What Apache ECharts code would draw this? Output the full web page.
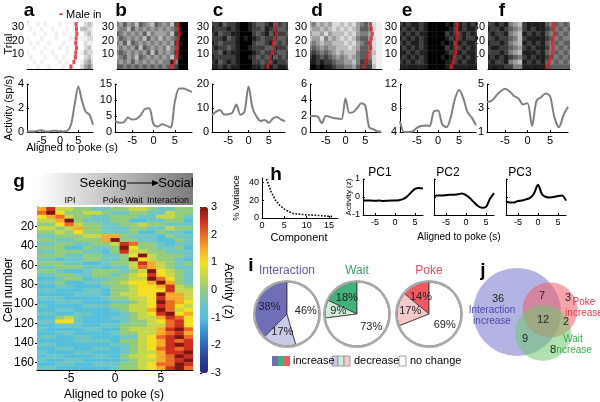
<!DOCTYPE html>
<html>
<head>
<meta charset="utf-8">
<script src="https://cdn.jsdelivr.net/npm/echarts@6/dist/echarts.min.js"></script>
<style>
  html, body { margin: 0; background: #fff; }
  #main { width: 600px; height: 402px; }
</style>
</head>
<body>
<div id="main"></div>
<script>
// ---- data ----
const TIME = [-9, -8, -7, -6, -5, -4, -3, -2, -1, 0, 1, 2, 3, 4, 5, 6, 7, 8, 9];
const X_TICKS = [-5, 0, 5];
const TRIAL_TICKS = [10, 20, 30];

// firing rate (sp/s), one value per TIME entry
const RATE_A = [0.05, 0.05, 0.05, 0.1, 0.15, 0.05, 0.05, 0.1, 0.1, 0.05, 0.05, 0.1, 0.6, 2.3, 3.8, 2.6, 1.7, 1.45, 0.6];
const RATE_B = [3.4, 2.9, 3.0, 4.5, 3.9, 4.1, 5.3, 7.2, 7.4, 2.5, 1.7, 2.4, 2.0, 1.4, 9.5, 13.6, 13.6, 13.1, 12.5];
const RATE_C = [7, 8.5, 9.2, 7.3, 7.4, 8, 11.5, 7.2, 8.4, 19, 10, 6.4, 4.6, 5, 3.9, 5.6, 6.3, 5.2, 4.6];
const RATE_D = [2.0, 2.0, 1.9, 1.1, 2.0, 1.9, 1.75, 1.7, 1.6, 4.2, 2.4, 2.5, 3.0, 3.6, 3.3, 0.6, 0.35, 0.1, 0.02];
const RATE_E = [5.8, 4.0, 4.0, 4.1, 4.7, 5.0, 5.1, 5.0, 7.4, 7.6, 5.3, 4.8, 6.4, 9.5, 11, 9.6, 7.3, 6.4, 5.1];
const RATE_F = [3.5, 3.6, 4.0, 4.4, 4.6, 4.4, 4.0, 3.8, 3.3, 3.4, 1.5, 3.6, 3.9, 4.2, 4.0, 2.2, 1.4, 2.4, 3.1];

const Y_TICKS_A = [0, 2, 4];
const Y_TICKS_B = [0, 5, 10, 15];
const Y_TICKS_C = [0, 10, 20];
const Y_TICKS_D = [0, 2, 4, 6];
const Y_TICKS_E = [4, 8, 12];
const Y_TICKS_F = [1, 3, 5];

// spike density per time bin (0 empty .. 9 solid), top block of trials first
const RASTER_A = [
  '1001010001000100232', '0100100100010103321', '0010010010100100231', '1000100010001001122',
  '0101001000100100211', '0010010001010000231', '1000100100010001322', '0100010010100100231',
  '0010100001010001342', '1001001000101002453'
];
const RASTER_B = [
  '5464536543654537999', '4553645454545456899', '6545454635444537999', '4654545364535456999',
  '5463654545454547899', '4545463654545356999', '5654545463645457999', '4564536545454536899',
  '5454645454545585999', '6656565656565667999'
];
const RASTER_C = [
  '7786778998766786767', '8777878998776877667', '7867788999767868776', '7778678989876777667',
  '8767778999766786767', '7877678998777668776', '7768788999876777667', '8777778998767686767',
  '7867878999776778776', '8878788999887887887'
];
const RASTER_D = [
  '4534342232324564211', '3443432323234665211', '4334243332324554111', '3442534323235664211',
  '4543443332324565211', '5654544333234665211', '6765654343335664311', '7876765454345665211',
  '8878776554435776211', '9989887665546777311'
];
const RASTER_E = [
  '7878878999989787878', '8787878999998787887', '7878788999978778787', '8787878999987878778',
  '7878878999898787887', '8787878999978778787', '8878788999987887887', '8787878999898778787',
  '7878778999988787887', '8888888999988888888'
];
const RASTER_F = [
  '7787854378888656565', '8778765478788765656', '7877854387878656565', '7787765378888765655',
  '8778754387878656566', '7887765478788755656', '7778754388878656565', '8787876578788765656',
  '7877854387878656565', '8888775588888766666'
];

// male entry time for each block of trials, bottom block first
const MALE_A = [3, 3.8, 4.2, 4.3, 4.5, 4.3, 4.4, 4.6, 4.5, 4.4];
const MALE_B = [4.8, 5.5, 6, 6.3, 6.5, 6.3, 6.6, 6.8, 6.5, 6.5];
const MALE_C = [4.2, 4.8, 4.8, 5.3, 5.8, 5.5, 5.8, 6.2, 5.8, 5.8];
const MALE_D = [4.5, 5, 5.3, 5.8, 6.2, 5.8, 6.3, 6.6, 6.3, 6.1];
const MALE_E = [3, 3.4, 3.7, 4, 4.3, 4, 4.3, 4.5, 4.3, 4.4];
const MALE_F = [4, 4.5, 4.8, 5.1, 5.3, 5.1, 5.3, 5.6, 5.5, 5.3];

// population heatmap: each string = 4 cells, one letter per second, a=-3 ... m=+3 (0.5 steps)
const HEAT_TIME = [-8, -7, -6, -5, -4, -3, -2, -1, 0, 1, 2, 3, 4, 5, 6, 7, 8];
const HEAT_LEVELS = 'abcdefghijklm';
const HEAT_ROWS = [
  'jlhhggffgghhgffgg', 'kmigghhgffggffhgg', 'ijkhggffgggffhhgf', 'hhjmgfffggeeffgge',
  'ggikhggffgghggfff', 'hhghjggfffggffhgg', 'gghgiggfffgeegffe', 'ffggghhjjgfffegff',
  'ggffgggjmggffeegf', 'ffggffgghlkggfeff', 'gggeegffgmiggffge', 'ffgggffeglhhggfff',
  'gggffggffgimhgggf', 'ffeffggffgmihggfe', 'gggffeefgghljhgfg', 'ffgggffeffhkjhgff',
  'ggfeefgggfghmihgf', 'ffggffggfghilihgf', 'eefggeffgghhmkigf', 'ffgeeffgghiijmjgf',
  'eeffeeefgghiijlhg', 'ffeeeffegghiiilhh', 'eeeefffeghhiimjjh', 'fffeeeefgghhiljjh',
  'eefffeeeffghimkji', 'feeeefffgghhilkih', 'eeffeeeefghhjmkhi', 'ffeeffeeefghilmij',
  'eeghfeeeffghhjlki', 'ffiifeeeefgghikli', 'eefffeeffggghhkli', 'feeeeffeeghhhjlmk',
  'eeffeeeefgghhjklj', 'ffeeffeeeffhiklmk', 'eeeeffffegghijlkl', 'ffeeeeeeffghijlml',
  'eeffeeffefghiklkl', 'feeeffeeefghhjllm', 'effeeeffeghhijkml', 'feeffeeeefghhjklm',
  'eeffeefffgghikkml', 'ffeeeeeefgghijlmk'
];
const CELL_TICKS = [20, 40, 60, 80, 100, 120, 140, 160];

// PCA
const COMPONENTS = [1, 2, 3, 4, 5, 6, 7, 8, 9, 10, 11, 12, 13, 14, 15, 16];
const VARIANCE = [44, 30, 20, 14, 10, 7, 5, 4.5, 4, 3.5, 3.2, 3, 2.7, 2.4, 2, 1.5];
const PC_TIME = [-8, -7, -6, -5, -4, -3, -2, -1, 0, 1, 2, 3, 4, 5, 6, 7];
const PC1 = [-0.2, -0.2, -0.2, -0.21, -0.2, -0.22, -0.21, -0.2, -0.2, -0.18, -0.12, 0.02, 0.25, 0.45, 0.5, 0.47];
const PC2 = [0.07, 0.08, 0.08, 0.1, 0.12, 0.13, 0.15, 0.2, 0.1, -0.07, -0.3, -0.5, -0.6, -0.55, -0.1, 0.22];
const PC3 = [-0.25, -0.3, -0.3, -0.22, -0.2, -0.13, -0.05, 0.2, 0.68, 0.15, 0.0, -0.03, 0.0, 0.05, 0.08, -0.2];

// percent of cells: increase, decrease, no change
const PIE_INTERACTION = [38, 17, 46];
const PIE_WAIT = [18, 9, 73];
const PIE_POKE = [14, 17, 69];

// venn counts: interaction only, int+poke, poke only, all three, poke+wait, int+wait, wait only
const VENN_COUNTS = [36, 7, 3, 12, 2, 9, 8];

// ---- layout / style ----
const FONT = '"Liberation Sans", Arial, Helvetica, sans-serif';
const TRIAL_MIN = -1, TRIAL_MAX = 34;
const JET = ['#26277c', '#2b3f98', '#3065b8', '#3a93d3', '#56c0dc', '#6fc6c4', '#93cc7c',
  '#c6d84a', '#f5df22', '#f6aa2a', '#ea6a26', '#cf2f20', '#7c1712'];
const GRAYS = ['#ffffff', '#f0f0f0', '#dadada', '#bdbdbd', '#9e9e9e', '#7e7e7e', '#5e5e5e', '#3e3e3e', '#1e1e1e', '#000000'];

const TOP = [
  { id: 'a', rate: RATE_A, ticks: Y_TICKS_A, raster: RASTER_A, male: MALE_A, rx: [27, 66], lx: [27, 66], lab: [29, 11] },
  { id: 'b', rate: RATE_B, ticks: Y_TICKS_B, raster: RASTER_B, male: MALE_B, rx: [117, 71], lx: [115, 77], lab: [121, 11] },
  { id: 'c', rate: RATE_C, ticks: Y_TICKS_C, raster: RASTER_C, male: MALE_C, rx: [212, 76], lx: [212, 73], lab: [218, 11] },
  { id: 'd', rate: RATE_D, ticks: Y_TICKS_D, raster: RASTER_D, male: MALE_D, rx: [310, 72], lx: [310, 71], lab: [317, 11] },
  { id: 'e', rate: RATE_E, ticks: Y_TICKS_E, raster: RASTER_E, male: MALE_E, rx: [400, 77], lx: [400, 76], lab: [407, 11] },
  { id: 'f', rate: RATE_F, ticks: Y_TICKS_F, raster: RASTER_F, male: MALE_F, rx: [488, 82], lx: [487, 81], lab: [502, 11] }
];

const GB = { show: false, containLabel: false, outerBoundsMode: 'none' };

function valueAxis(gridIndex, min, max, ticks, o = {}) {
  return {
    type: 'value', gridIndex, min, max,
    position: o.position, inverse: !!o.inverse, show: o.show !== false,
    axisLine: { show: o.line !== false, onZero: false, lineStyle: { color: '#000', width: 1 } },
    axisTick: { show: !!ticks, inside: o.tickInside !== false, length: 2, customValues: ticks || undefined, lineStyle: { color: '#000' } },
    axisLabel: {
      show: !!ticks && o.labels !== false, customValues: ticks || undefined,
      color: '#000', fontFamily: FONT, fontSize: o.fontSize || 11, margin: o.margin ?? 3
    },
    splitLine: { show: false }
  };
}

function cellRect(params, api) {
  const p0 = api.coord([api.value(0) - 0.5, api.value(1)]);
  const p1 = api.coord([api.value(0) + 0.5, api.value(3)]);
  const cs = params.coordSys;
  const shape = echarts.graphic.clipRectByRect({
    x: Math.min(p0[0], p1[0]), y: Math.min(p0[1], p1[1]),
    width: Math.abs(p1[0] - p0[0]) + 0.4, height: Math.abs(p1[1] - p0[1]) + 0.4
  }, { x: cs.x, y: cs.y, width: cs.width, height: cs.height });
  return shape && { type: 'rect', shape, style: { fill: api.visual('color') } };
}

function text(x, y, str, o = {}) {
  return {
    type: 'text', x, y, rotation: o.rot || 0, silent: true, z: 50,
    style: {
      text: str, fill: o.color || '#000',
      font: `${o.weight || 'normal'} ${o.size || 11}px ${FONT}`,
      align: o.align || 'center', verticalAlign: 'middle'
    }
  };
}

const grid = [], xAxis = [], yAxis = [], series = [], graphic = [];

// rasters (grids 0-5)
TOP.forEach((p, i) => {
  grid.push({ left: p.rx[0], width: p.rx[1], top: 22, height: 47, ...GB });
  xAxis.push(valueAxis(i, -9, 9, null));
  yAxis.push(valueAxis(i, TRIAL_MIN, TRIAL_MAX, TRIAL_TICKS));
  const h = (TRIAL_MAX - TRIAL_MIN) / p.raster.length;
  const cells = [];
  p.raster.forEach((row, r) => {
    const top = TRIAL_MAX - r * h;
    for (let c = 0; c < row.length; c++) cells.push([TIME[c], top - h, +row[c], top]);
  });
  series.push({ type: 'custom', xAxisIndex: i, yAxisIndex: i, renderItem: cellRect, data: cells, silent: true });
});
TOP.forEach((p, i) => {
  const h = (TRIAL_MAX - TRIAL_MIN) / p.male.length;
  series.push({
    type: 'scatter', xAxisIndex: i, yAxisIndex: i, silent: true, z: 5,
    symbol: 'rect', symbolSize: [3, 4.5], itemStyle: { color: '#e41e26' },
    data: p.male.map((t, k) => [t, TRIAL_MIN + (k + 0.5) * h])
  });
});

// firing rate plots (grids 6-11)
TOP.forEach((p, i) => {
  const gi = 6 + i;
  grid.push({ left: p.lx[0], width: p.lx[1], top: 84, height: 48, ...GB });
  xAxis.push(valueAxis(gi, -9, 9, X_TICKS));
  yAxis.push(valueAxis(gi, p.ticks[0], p.ticks[p.ticks.length - 1], p.ticks));
  series.push({
    type: 'line', xAxisIndex: gi, yAxisIndex: gi, silent: true, showSymbol: false, smooth: 0.3,
    lineStyle: { color: '#808080', width: 2 }, data: TIME.map((t, k) => [t, p.rate[k]])
  });
  graphic.push(text(p.lab[0], p.lab[1], p.id, { size: 19, weight: 'bold' }));
});

// heatmap g (grid 12)
grid.push({ left: 37, top: 207, width: 156, height: 163, ...GB });
xAxis.push(valueAxis(12, -8.5, 8.5, X_TICKS, { fontSize: 12, tickInside: false }));
yAxis.push(valueAxis(12, 0, 168, CELL_TICKS, { inverse: true, fontSize: 12, tickInside: false }));
const heatCells = [];
HEAT_ROWS.forEach((row, r) => {
  for (let c = 0; c < row.length; c++) {
    heatCells.push([HEAT_TIME[c], r * 4, HEAT_LEVELS.indexOf(row[c]) * 0.5 - 3, r * 4 + 4]);
  }
});
series.push({ type: 'custom', xAxisIndex: 12, yAxisIndex: 12, renderItem: cellRect, data: heatCells, silent: true });

// colorbar ticks (grid 13)
grid.push({ left: 200, top: 207, width: 8, height: 166, ...GB });
xAxis.push({ type: 'value', gridIndex: 13, min: 0, max: 1, show: false });
yAxis.push({
  type: 'value', gridIndex: 13, min: -3, max: 3, interval: 1, position: 'right',
  axisLine: { show: false }, axisTick: { show: true, length: 2, lineStyle: { color: '#000' } },
  axisLabel: { color: '#000', fontFamily: FONT, fontSize: 11, margin: 3 }, splitLine: { show: false }
});

// variance explained h (grid 14)
grid.push({ left: 262, top: 178, width: 76, height: 40, ...GB });
xAxis.push(valueAxis(14, 0, 17, [0, 5, 10, 15], { fontSize: 9 }));
yAxis.push(valueAxis(14, 0, 45, [0, 20, 40], { fontSize: 9 }));
series.push({
  type: 'line', xAxisIndex: 14, yAxisIndex: 14, silent: true, showSymbol: false,
  lineStyle: { color: '#000', width: 1.6, type: 'dotted' },
  data: COMPONENTS.map((c, k) => [c, VARIANCE[k]])
});

// PC time courses (grids 15-17)
const PCS = [[PC1, 363, 'PC1', 380], [PC2, 434, 'PC2', 448], [PC3, 506, 'PC3', 520]];
PCS.forEach(([vals, left, name, tx], k) => {
  const gi = 15 + k;
  grid.push({ left, top: 179, width: 60, height: 36, ...GB });
  xAxis.push(valueAxis(gi, -8, 7, X_TICKS, { fontSize: 9 }));
  yAxis.push(valueAxis(gi, -1, 1, [-1, 0, 1], { fontSize: 9, labels: k === 0 }));
  series.push({
    type: 'line', xAxisIndex: gi, yAxisIndex: gi, silent: true, showSymbol: false, smooth: 0.3,
    lineStyle: { color: '#000', width: 2 }, data: PC_TIME.map((t, j) => [t, vals[j]])
  });
  graphic.push(text(tx, 173, name, { size: 12 }));
});

// pies i
const PIES = [
  [PIE_INTERACTION, 287, 'Interaction', '#5b5ba8', ['#6f6fb8', '#c9c9e8', '#ffffff']],
  [PIE_WAIT, 357, 'Wait', '#35a06a', ['#40b27a', '#cdeedb', '#ffffff']],
  [PIE_POKE, 429, 'Poke', '#e8505b', ['#ef5a62', '#f7c9cb', '#ffffff']]
];
PIES.forEach(([vals, cx, title, tcol, cols]) => {
  series.push({
    type: 'pie', center: [cx, 314], radius: [0, 32], startAngle: 90, clockwise: false, silent: true,
    label: { show: true, position: 'inside', formatter: '{c}%', color: '#222', fontSize: 11, fontFamily: FONT },
    labelLine: { show: false }, itemStyle: { borderColor: '#333', borderWidth: 0.8 },
    data: vals.map((v, j) => ({ value: v, itemStyle: { color: cols[j] } }))
  });
  series.push({
    type: 'pie', center: [cx, 314], radius: [31.5, 34], silent: true, label: { show: false },
    itemStyle: { borderWidth: 0 }, data: [{ value: 1, itemStyle: { color: '#a9a9a9' } }]
  });
  graphic.push(text(cx, 271, title, { size: 12, color: tcol }));
});

// pie legend
const swatch = (x, cols, stroke) => cols.map((c, j) => ({
  type: 'rect', silent: true, shape: { x: x + j * 6, y: 356, width: 6, height: 10 },
  style: { fill: c, stroke: stroke, lineWidth: stroke ? 0.8 : 0 }
}));
graphic.push(...swatch(272, ['#6f6fb8', '#40b27a', '#ef5a62']));
graphic.push(text(293, 361, 'increase', { align: 'left', size: 11 }));
graphic.push(...swatch(332, ['#c9c9e8', '#cdeedb', '#f7c9cb'], '#8a8a8a'));
graphic.push(text(354, 361, 'decrease', { align: 'left', size: 11 }));
graphic.push({ type: 'rect', silent: true, shape: { x: 399, y: 356, width: 7, height: 10 }, style: { fill: '#fff', stroke: '#8a8a8a', lineWidth: 0.8 } });
graphic.push(text(410, 361, 'no change', { align: 'left', size: 11 }));

// venn j
graphic.push({ type: 'circle', silent: true, shape: { cx: 517, cy: 312, r: 44 }, style: { fill: 'rgba(118,118,205,0.55)' } });
graphic.push({ type: 'circle', silent: true, shape: { cx: 550, cy: 310, r: 27.5 }, style: { fill: 'rgba(238,92,102,0.55)' } });
graphic.push({ type: 'circle', silent: true, shape: { cx: 543, cy: 333, r: 28 }, style: { fill: 'rgba(112,200,112,0.55)' } });
const VENN_POS = [[498, 299], [542, 296], [568, 298], [543, 320], [566, 322], [525, 339], [553, 350]];
VENN_COUNTS.forEach((n, k) => graphic.push(text(VENN_POS[k][0], VENN_POS[k][1], String(n), { size: 11, color: '#222' })));
graphic.push(text(492, 310, 'Interaction', { size: 10, color: '#4a4aa8' }));
graphic.push(text(492, 321, 'increase', { size: 10, color: '#4a4aa8' }));
graphic.push(text(584, 302, 'Poke', { size: 10, color: '#e23a44' }));
graphic.push(text(584, 313, 'increase', { size: 10, color: '#e23a44' }));
graphic.push(text(573, 339, 'Wait', { size: 10, color: '#3aaa4a' }));
graphic.push(text(573, 350, 'increase', { size: 10, color: '#3aaa4a' }));

// heatmap header
graphic.push({
  type: 'rect', silent: true, z: 1, shape: { x: 37, y: 173, width: 156, height: 32 },
  style: { fill: new echarts.graphic.LinearGradient(0, 0, 1, 0, [{ offset: 0, color: '#ffffff' }, { offset: 1, color: '#7b7b7b' }]) }
});
graphic.push(text(103, 183, 'Seeking', { size: 13 }));
graphic.push({ type: 'line', silent: true, z: 50, shape: { x1: 127, y1: 183, x2: 153, y2: 183 }, style: { stroke: '#000', lineWidth: 1 } });
graphic.push({ type: 'polygon', silent: true, z: 50, shape: { points: [[152, 180], [159, 183], [152, 186]] }, style: { fill: '#000' } });
graphic.push(text(176, 183, 'Social', { size: 13 }));
graphic.push(text(70, 201, 'IPI', { size: 9 }));
graphic.push(text(113, 201, 'Poke', { size: 9 }));
graphic.push(text(134, 201, 'Wait', { size: 9 }));
graphic.push(text(168, 201, 'Interaction', { size: 9 }));

// other labels
graphic.push(text(61, 15, '-', { size: 12, weight: 'bold', color: '#e41e26' }));
graphic.push(text(66, 15, 'Male in', { size: 11, align: 'left' }));
graphic.push(text(9, 44, 'Trial', { size: 11, rot: Math.PI / 2 }));
graphic.push(text(9, 108, 'Activity (sp/s)', { size: 11, rot: Math.PI / 2 }));
graphic.push(text(72, 148, 'Aligned to poke (s)', { size: 11 }));
graphic.push(text(19, 182, 'g', { size: 19, weight: 'bold' }));
graphic.push(text(9, 290, 'Cell number', { size: 12, rot: Math.PI / 2 }));
graphic.push(text(114, 395, 'Aligned to poke (s)', { size: 12 }));
graphic.push(text(228, 291, 'Activity (z)', { size: 12, rot: -Math.PI / 2 }));
graphic.push(text(276, 175, 'h', { size: 19, weight: 'bold' }));
graphic.push(text(237, 198, '% Variance', { size: 9, rot: Math.PI / 2 }));
graphic.push(text(299, 238, 'Component', { size: 11 }));
graphic.push(text(349, 197, 'Activity (z)', { size: 8, rot: Math.PI / 2 }));
graphic.push(text(459, 237, 'Aligned to poke (s)', { size: 10 }));
graphic.push(text(251, 266, 'i', { size: 19, weight: 'bold' }));
graphic.push(text(483, 271, 'j', { size: 19, weight: 'bold' }));

const option = {
  animation: false,
  backgroundColor: '#fff',
  textStyle: { fontFamily: FONT },
  grid, xAxis, yAxis, series, graphic,
  visualMap: [
    { type: 'continuous', show: false, seriesIndex: [0, 1, 2, 3, 4, 5], dimension: 2, min: 0, max: 9, inRange: { color: GRAYS } },
    {
      type: 'continuous', show: true, seriesIndex: 18, dimension: 2, min: -3, max: 3,
      left: 200, top: 207, itemWidth: 8, itemHeight: 166, padding: 0, calculable: false,
      hoverLink: false, text: null, inRange: { color: JET }
    }
  ]
};

const chart = echarts.init(document.getElementById('main'), null, { renderer: 'canvas' });
chart.setOption(option);
</script>
</body>
</html>
